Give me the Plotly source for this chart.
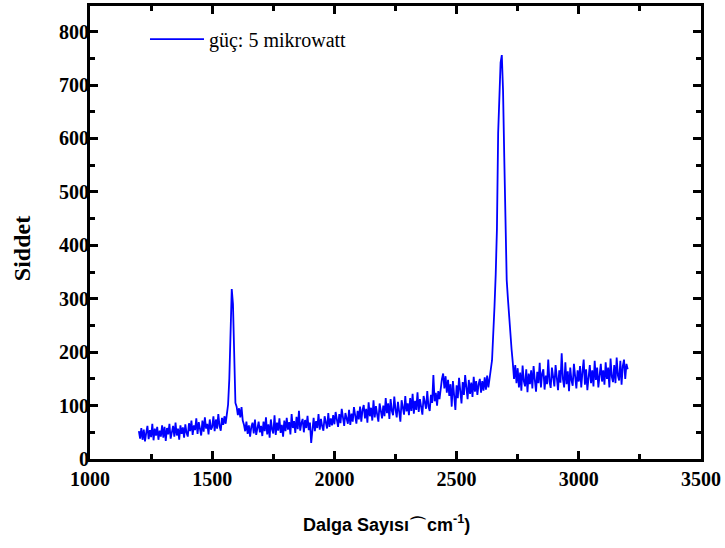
import plotly.graph_objects as go

# Raman shift sample positions (cm^-1), every 5 units from 1200 to 3200
wavenumber = list(range(1200, 3201, 5))

# Intensity values (20 values per 100 cm^-1 row)
intensity = [
    52, 38, 58, 36, 55, 33, 49, 62, 37, 54, 41, 66, 35, 57, 44, 60, 36, 53, 42, 63,
    40, 60, 34, 58, 46, 66, 38, 54, 62, 42, 68, 44, 57, 36, 63, 47, 59, 40, 65, 49,
    42, 67, 52, 72, 45, 63, 54, 76, 47, 69, 56, 44, 72, 51, 78, 57, 66, 46, 74, 55,
    60, 80, 52, 74, 57, 84, 62, 53, 77, 64, 80, 66, 84, 102, 150, 250, 318, 290, 180, 105,
    98, 82, 95, 78, 97, 72, 64, 52, 70, 47, 63, 42, 60, 68, 48, 74, 45, 62, 70, 50,
    62, 43, 70, 52, 78, 46, 65, 40, 74, 55, 48, 82, 45, 68, 53, 76, 49, 64, 42, 72,
    52, 77, 55, 69, 46, 84, 58, 71, 49, 79, 56, 90, 53, 67, 75, 50, 73, 58, 81, 54,
    68, 30, 63, 77, 52, 71, 58, 84, 55, 75, 61, 53, 80, 65, 57, 86, 60, 76, 63, 82,
    65, 88, 70, 60, 84, 67, 94, 72, 62, 86, 74, 66, 92, 64, 85, 70, 97, 75, 66, 90,
    74, 98, 70, 92, 101, 76, 94, 68, 106, 80, 96, 72, 110, 78, 99, 83, 70, 104, 86, 76,
    100, 80, 114, 86, 104, 75, 112, 90, 82, 117, 93, 78, 107, 88, 70, 110, 95, 83, 118, 89,
    104, 82, 114, 90, 122, 85, 109, 92, 125, 88, 112, 97, 83, 118, 104, 94, 127, 98, 90, 120,
    105, 157, 108, 124, 100, 127, 112, 133, 150, 160, 132, 155, 124, 148, 118, 140, 98, 146, 122, 92,
    138, 114, 152, 124, 104, 144, 120, 157, 130, 112, 148, 122, 143, 116, 154, 126, 146, 120, 140, 150,
    124, 146, 128, 153, 130, 156, 134, 158, 168, 185, 225, 285, 345, 430, 610, 705, 742, 756, 690, 565,
    420, 335, 300, 262, 232, 205, 180, 150, 176, 142, 170, 134, 162, 128, 175, 146, 136, 168, 125, 160,
    140, 166, 132, 174, 148, 126, 163, 142, 180, 134, 160, 168, 130, 156, 140, 186, 145, 133, 171, 150,
    136, 176, 148, 129, 166, 143, 198, 150, 134, 181, 140, 164, 127, 171, 147, 137, 178, 152, 132, 166,
    145, 174, 134, 163, 186, 139, 168, 129, 160, 176, 142, 166, 136, 184, 148, 171, 134, 163, 178, 145,
    166, 139, 181, 150, 171, 134, 188, 154, 144, 176, 142, 190, 156, 147, 184, 139, 174, 186, 150, 178,
    168,
]

series_name = "güç: 5 mikrowatt"
x_ticks = [1000, 1500, 2000, 2500, 3000, 3500]
y_ticks = [0, 100, 200, 300, 400, 500, 600, 700, 800]

fig = go.Figure()
fig.add_trace(go.Scatter(
    x=wavenumber, y=intensity, mode="lines", name=series_name,
    line=dict(color="#0000ff", width=1.8),
))

tickfont = dict(family="Liberation Serif", size=20, color="black", weight="bold")
axis_common = dict(
    showline=True, linecolor="black", linewidth=3, mirror="allticks",
    ticks="inside", ticklen=8, tickwidth=3, tickcolor="black",
    showgrid=False, zeroline=False, tickfont=tickfont,
)

fig.update_layout(
    width=725, height=548,
    margin=dict(l=90, r=24, t=3, b=89),
    paper_bgcolor="white", plot_bgcolor="white",
    xaxis=dict(range=[1000, 3500], tickvals=x_ticks,
               minor=dict(dtick=250, ticks="inside", ticklen=5, tickwidth=3, tickcolor="black"),
               **axis_common),
    yaxis=dict(range=[0, 848], tickvals=y_ticks, ticklabelstandoff=-6,
               minor=dict(dtick=50, ticks="inside", ticklen=5, tickwidth=3, tickcolor="black"),
               **axis_common),
    showlegend=True,
    legend=dict(x=0.09, y=0.97, xanchor="left", yanchor="top",
                bgcolor="rgba(0,0,0,0)", itemwidth=54,
                font=dict(family="Liberation Serif", size=20, color="black")),
    annotations=[
        dict(text="<b>Dalga Sayısı⌒cm<sup>-1</sup>)</b>", xref="paper", yref="paper",
             x=0.485, y=-0.142, xanchor="center", yanchor="middle", showarrow=False,
             font=dict(family="Liberation Sans", size=18, color="black")),
        dict(text="<b>Siddet</b>", xref="paper", yref="paper",
             x=-0.11, y=0.465, xanchor="center", yanchor="middle", showarrow=False,
             textangle=-90,
             font=dict(family="Liberation Serif", size=24, color="black")),
    ],
)

fig.write_html("out.html")
